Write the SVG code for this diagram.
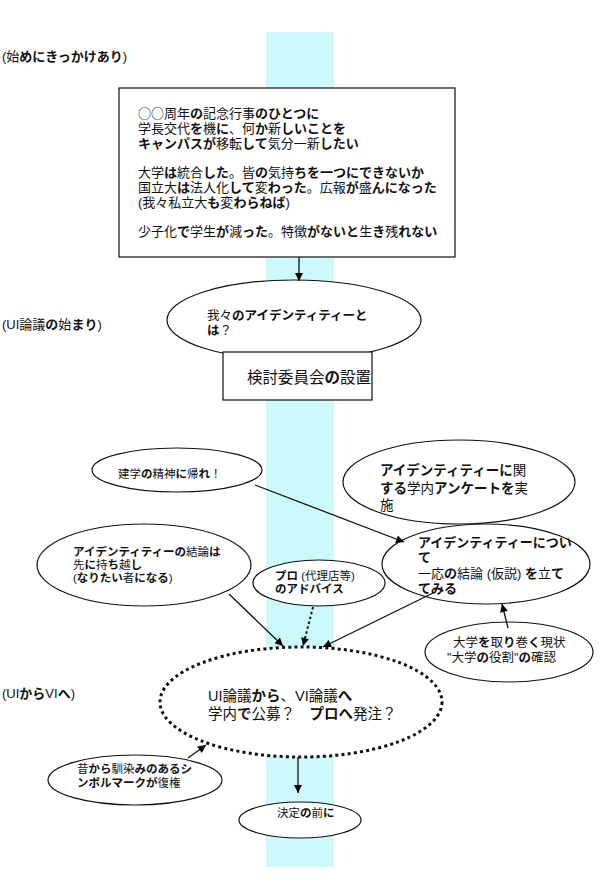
<svg xmlns="http://www.w3.org/2000/svg" width="601" height="895" viewBox="0 0 601 895">
<defs>
<marker id="ah" viewBox="0 0 10 10" refX="10" refY="5" markerWidth="9" markerHeight="8" markerUnits="userSpaceOnUse" orient="auto">
<path d="M0,0 L10,5 L0,10 Z" fill="#000"/>
</marker>
<style>
text{font-family:"Liberation Sans","Noto Sans CJK JP",sans-serif;fill:#111;}
.b{font-weight:700;}
.cjk{font-family:"Noto Sans CJK JP",sans-serif;}
.shape{fill:#fff;stroke:#111;stroke-width:1.2;}
.dotted{fill:#fff;stroke:#111;stroke-width:3;stroke-dasharray:3 3.2;}
.conn{stroke:#111;stroke-width:1.3;fill:none;marker-end:url(#ah);}
.connd{stroke:#111;stroke-width:2;fill:none;stroke-dasharray:2.5 2.5;marker-end:url(#ah);}
</style>
</defs>
<rect x="266" y="32" width="68" height="835" fill="#ccfafc"/>

<g id="labels" font-size="13">
<text x="2" y="61">(始<tspan class="b">めにきっかけあり</tspan>)</text>
<text x="2" y="329">(UI論議<tspan class="b">の</tspan>始<tspan class="b">まり</tspan>)</text>
<text x="2" y="698">(UI<tspan class="b">から</tspan>VI<tspan class="b">へ</tspan>)</text>
</g>

<g id="n-context">
<rect class="shape" x="119" y="88" width="336" height="169"/>
<g font-size="13">
<text x="138" y="118.3"><tspan class="cjk">○○</tspan>周年<tspan class="b">の</tspan>記念行事<tspan class="b">のひとつに</tspan></text>
<text x="138" y="133">学長交代<tspan class="b">を</tspan>機<tspan class="b">に</tspan>、何<tspan class="b">か</tspan>新<tspan class="b">しいことを</tspan></text>
<text x="138" y="147.7"><tspan class="b">キャンパスが</tspan>移転<tspan class="b">して</tspan>気分一新<tspan class="b">したい</tspan></text>
<text x="138" y="177">大学<tspan class="b">は</tspan>統合<tspan class="b">した</tspan>。皆<tspan class="b">の</tspan>気持<tspan class="b">ちを一つにできないか</tspan></text>
<text x="138" y="191.8">国立大<tspan class="b">は</tspan>法人化<tspan class="b">して</tspan>変<tspan class="b">わった</tspan>。広報<tspan class="b">が</tspan>盛<tspan class="b">んになった</tspan></text>
<text x="138" y="206.5">(我々私立大<tspan class="b">も</tspan>変<tspan class="b">わらねば</tspan>)</text>
<text x="138" y="236">少子化<tspan class="b">で</tspan>学生<tspan class="b">が</tspan>減<tspan class="b">った</tspan>。特徴<tspan class="b">がないと</tspan>生<tspan class="b">き</tspan>残<tspan class="b">れない</tspan></text>
</g>
</g>

<g id="n-identity">
<ellipse class="shape" cx="294" cy="320" rx="127" ry="40"/>
<text x="207" y="320" font-size="12.5">我々<tspan class="b">のアイデンティティーと</tspan></text>
<text x="207" y="335" font-size="12.5"><tspan class="b">は</tspan>？</text>
</g>

<g id="n-committee">
<rect class="shape" x="223" y="352" width="149" height="48"/>
<text x="247" y="383" font-size="15.5">検討委員会<tspan class="b">の</tspan>設置</text>
</g>

<g id="n-founding">
<ellipse class="shape" cx="177" cy="470" rx="85" ry="22"/>
<text x="118" y="477.5" font-size="11.5">建学<tspan class="b">の</tspan>精神<tspan class="b">に</tspan>帰<tspan class="b">れ</tspan>！</text>
</g>

<g id="n-survey">
<ellipse class="shape" cx="459" cy="482" rx="116" ry="42"/>
<g font-size="13.5">
<text x="380" y="475"><tspan class="b">アイデンティティーに</tspan>関</text>
<text x="380" y="493"><tspan class="b">する</tspan>学内<tspan class="b">アンケートを</tspan>実</text>
<text x="380" y="510">施</text>
</g>
</g>

<g id="n-hypothesis">
<ellipse class="shape" cx="486" cy="564" rx="104" ry="40"/>
<g font-size="13">
<text x="418" y="546.5"><tspan class="b">アイデンティティーについ</tspan></text>
<text x="418" y="561.5"><tspan class="b">て</tspan></text>
<text x="418" y="577.5">一応<tspan class="b">の</tspan>結論 (仮説) <tspan class="b">を</tspan>立<tspan class="b">て</tspan></text>
<text x="418" y="592.5"><tspan class="b">てみる</tspan></text>
</g>
</g>

<g id="n-postpone">
<ellipse class="shape" cx="144" cy="565" rx="107" ry="41"/>
<g font-size="11.5">
<text x="73" y="555.5"><tspan class="b">アイデンティティーの</tspan>結論<tspan class="b">は</tspan></text>
<text x="73" y="568.5">先<tspan class="b">に</tspan>持<tspan class="b">ち</tspan>越<tspan class="b">し</tspan></text>
<text x="73" y="581.5">(<tspan class="b">なりたい</tspan>者<tspan class="b">になる</tspan>)</text>
</g>
</g>

<g id="n-pro">
<ellipse class="shape" cx="319" cy="583" rx="66" ry="23"/>
<g font-size="11.5">
<text x="275" y="580"><tspan class="b">プロ</tspan> (代理店等)</text>
<text x="275" y="592.5"><tspan class="b">のアドバイス</tspan></text>
</g>
</g>

<g id="n-role">
<ellipse class="shape" cx="509" cy="652" rx="84" ry="30"/>
<g font-size="12.5">
<text x="453" y="647">大学<tspan class="b">を</tspan>取<tspan class="b">り</tspan>巻<tspan class="b">く</tspan>現状</text>
<text x="447" y="662">"大学<tspan class="b">の</tspan>役割"<tspan class="b">の</tspan>確認</text>
</g>
</g>

<g id="n-ui-vi">
<ellipse class="dotted" cx="301" cy="702" rx="141" ry="55"/>
<g font-size="14.5">
<text x="208" y="700.5">UI論議<tspan class="b">から</tspan>、VI論議<tspan class="b">へ</tspan></text>
<text x="208" y="718.5">学内<tspan class="b">で</tspan>公募？　<tspan class="b">プロへ</tspan>発注？</text>
</g>
</g>

<g id="n-symbol">
<ellipse class="shape" cx="135" cy="780" rx="87" ry="25"/>
<g font-size="11.5">
<text x="77" y="772.5">昔<tspan class="b">から</tspan>馴染<tspan class="b">みのあるシ</tspan></text>
<text x="77" y="786.5"><tspan class="b">ンボルマークが</tspan>復権</text>
</g>
</g>

<g id="n-decision">
<ellipse class="shape" cx="300" cy="820" rx="61" ry="18"/>
<text x="277" y="816.5" font-size="11.5">決定<tspan class="b">の</tspan>前<tspan class="b">に</tspan></text>
</g>

<g id="connectors">
<line class="conn" x1="299" y1="257" x2="299" y2="281"/>
<line class="conn" x1="255" y1="485" x2="404" y2="542"/>
<line class="conn" x1="229" y1="594" x2="283" y2="646"/>
<line class="connd" x1="313" y1="607" x2="303" y2="646"/>
<line class="conn" x1="433" y1="593" x2="323" y2="647"/>
<line class="conn" x1="508" y1="628" x2="502" y2="604"/>
<line class="conn" x1="188" y1="758" x2="206" y2="745"/>
<line class="conn" x1="298" y1="757" x2="298" y2="793"/>
</g>
</svg>
